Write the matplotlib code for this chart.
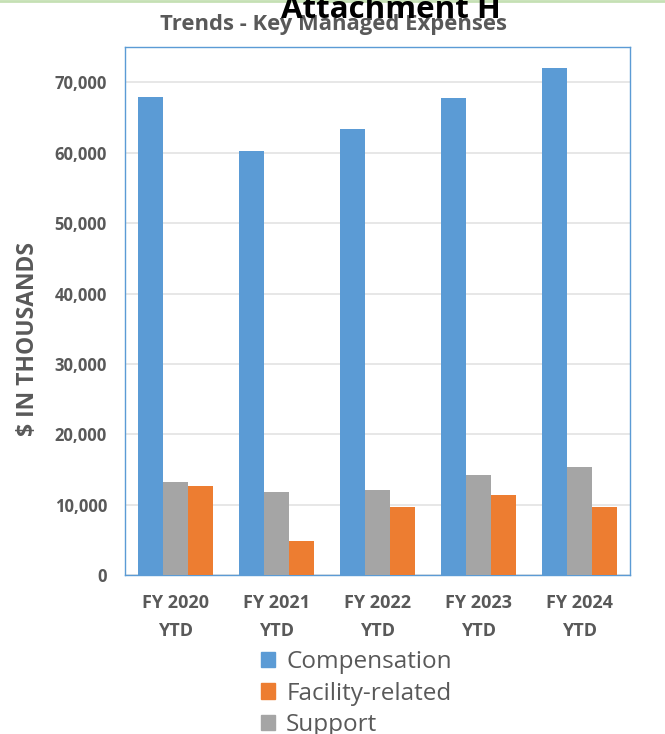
import numpy as np
import matplotlib
matplotlib.use("Agg")
import matplotlib.pyplot as plt
from matplotlib.lines import Line2D
from matplotlib.patches import Patch

plt.rcParams['font.family'] = ['Open Sans', 'DejaVu Sans']

categories = ['FY 2020\nYTD', 'FY 2021\nYTD', 'FY 2022\nYTD', 'FY 2023\nYTD', 'FY 2024\nYTD']
compensation = [67900, 60230, 63450, 67800, 72120]
support = [13230, 11820, 12150, 14280, 15380]
facility = [12620, 4820, 9650, 11350, 9650]
yticks = [0, 10000, 20000, 30000, 40000, 50000, 60000, 70000]

blue = '#5B9BD5'
orange = '#ED7D31'
gray = '#A5A5A5'
txt = '#595959'

fig = plt.figure(figsize=(6.65, 7.34), dpi=100)
ax = fig.add_axes([0.188, 0.2166, 0.759, 0.719])

x = np.arange(len(categories))
w = 0.248
ax.bar(x - w, compensation, w, color=blue, zorder=3)
ax.bar(x, support, w, color=gray, zorder=3)
ax.bar(x + w, facility, w, color=orange, zorder=3)

ax.set_xlim(-0.5, len(categories) - 0.5)
ax.set_ylim(0, 75000)
ax.set_yticks(yticks)
ax.set_yticklabels([f'{v:,}' for v in yticks], fontsize=12, fontweight='bold', color=txt)
ax.set_xticks(x)
ax.set_xticklabels(categories, fontsize=13, fontweight='bold', color=txt, linespacing=1.65)
ax.tick_params(axis='y', length=0, pad=13)
ax.tick_params(axis='x', length=0, pad=14)
ax.grid(axis='y', color='#E3E3E3', lw=1.2, zorder=0)
for s in ax.spines.values():
    s.set_color(blue)
    s.set_linewidth(1.0)

fig.text(0.042, 0.538, '$ IN THOUSANDS', rotation=90, ha='center', va='center',
         fontsize=16.5, fontweight='bold', color=txt)
fig.text(0.502, 0.966, 'Trends - Key Managed Expenses', ha='center', va='center',
         fontsize=15.8, fontweight='bold', color=txt)
fig.text(0.588, 0.975, 'Attachment H', ha='center', va='baseline',
         fontsize=22.5, fontweight='bold', color='black')
fig.add_artist(Line2D([0, 1], [0.998, 0.998], color='#C5E0B4', lw=2, transform=fig.transFigure))

handles = [Patch(color=blue), Patch(color=orange), Patch(color=gray)]
fig.legend(handles, ['Compensation', 'Facility-related', 'Support'],
           loc='upper left', bbox_to_anchor=(0.392, 0.114), frameon=False,
           fontsize=17.5, labelcolor=txt, handlelength=0.6, handleheight=0.6,
           handletextpad=0.45, labelspacing=0.3, borderpad=0, borderaxespad=0)

fig.savefig('out.png', dpi=100)
